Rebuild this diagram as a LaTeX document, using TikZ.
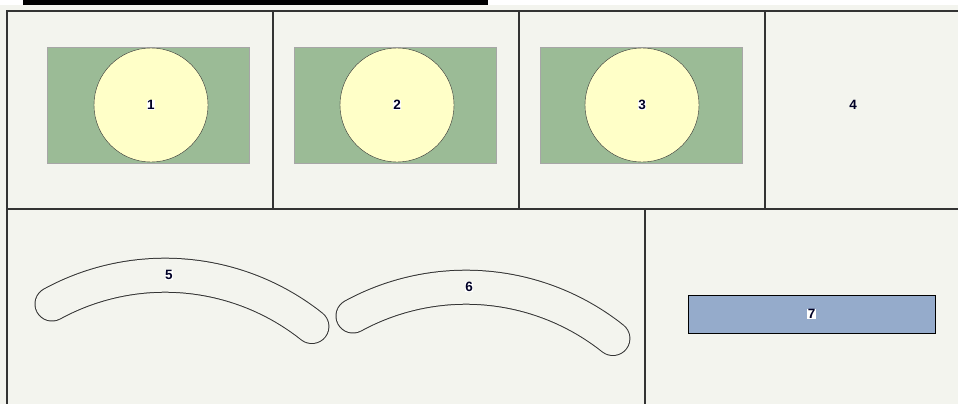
\documentclass[tikz,border=0pt]{standalone}
\usepackage{fontspec}
\setmainfont{Liberation Sans}
\definecolor{paper}{HTML}{F3F4EE}
\definecolor{leaf}{HTML}{9BBB96}
\definecolor{cream}{HTML}{FFFFC8}
\definecolor{steel}{HTML}{95ABCB}
\definecolor{ink}{HTML}{333333}

\begin{document}
\begin{tikzpicture}[x=1pt,y=1pt,
    grid/.style={draw=ink,line width=2pt},
    plate/.style={draw=black!35,fill=leaf,minimum width=202pt,minimum height=116pt,inner sep=0pt},
    disc/.style={circle,draw=black!80,fill=cream,minimum size=114pt,inner sep=0pt},
    lbl/.style={fill=white,inner sep=0.6pt,text=black!85!blue,font=\bfseries\fontsize{13.5}{13.5}\selectfont},
    bandline/.style={line width=35pt,line cap=round,draw=black!80},
    bandfill/.style={line width=33pt,line cap=round,draw=paper}]
            \useasboundingbox (0,0) rectangle (958,-404);
            \fill[paper] (0,0) rectangle (958,-404);
            \fill[white] (0,0) rectangle (958,-5);
            \fill[black] (23,0) rectangle (488,-5);

            % panel frame
            \draw[grid] (7,-404) -- (7,-11) -- (958,-11);
            \draw[grid] (7,-209) -- (958,-209);
            \draw[grid] (273,-11) -- (273,-209);
            \draw[grid] (519,-11) -- (519,-209);
            \draw[grid] (765,-11) -- (765,-209);
            \draw[grid] (645,-209) -- (645,-404);

            % top row
            \node[plate] (p1) at (148,-105) {};
            \node[disc] (c1) at (151,-105) {};
            \node[lbl] (n1) at (c1) {1};
            \node[plate] (p2) at (395.5,-105) {};
            \node[disc] (c2) at (397,-105) {};
            \node[lbl] (n2) at (c2) {2};
            \node[plate] (p3) at (641.5,-105) {};
            \node[disc] (c3) at (642,-105) {};
            \node[lbl] (n3) at (c3) {3};
            \node[lbl,fill=none] (n4) at (853,-105) {4};

            % curved bands
            \draw[bandline] (52,-304) arc[start angle=118.6,end angle=51.5,radius=236];
            \draw[bandfill] (52,-304) arc[start angle=118.6,end angle=51.5,radius=236];
            \node[lbl] (n5) at (169,-275) {5};
            \draw[bandline] (353,-316) arc[start angle=118.6,end angle=51.5,radius=236];
            \draw[bandfill] (353,-316) arc[start angle=118.6,end angle=51.5,radius=236];
            \node[lbl] (n6) at (469,-287) {6};

            \node[draw=black,fill=steel,minimum width=247pt,minimum height=38pt,inner sep=0pt] (b7) at (811.5,-314) {};
            \node[lbl] (n7) at (b7) {7};
        \end{tikzpicture}
\end{document}
